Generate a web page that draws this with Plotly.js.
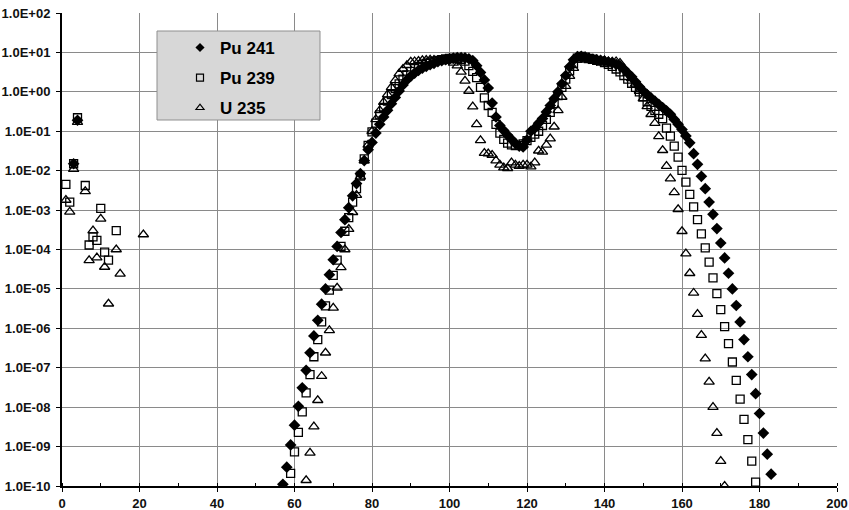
<!DOCTYPE html>
<html>
<head>
<meta charset="utf-8">
<script src="https://cdn.plot.ly/plotly-3.0.1.min.js"></script>
<style>html,body{margin:0;padding:0;background:#fff;}#chart{width:849px;height:510px;}</style>
</head>
<body>
<div id="chart"></div>
<script>
// Mass number (x) and yield (y) for each series
const pu241Mass = [3,4,
 57,58,59,60,61,62,63,64,65,66,67,68,69,70,71,72,73,74,75,76,77,78,79,80,81,82,83,84,85,86,
 87,88,89,90,91,92,93,94,95,96,97,98,99,100,101,102,103,104,105,106,107,108,109,110,111,112,113,114,115,116,
 117,118,119,120,121,122,123,124,125,126,127,128,129,130,131,132,133,134,135,136,137,138,139,140,141,142,143,144,145,146,
 147,148,149,150,151,152,153,154,155,156,157,158,159,160,161,162,163,164,165,166,167,168,169,170,171,172,173,174,175,176,
 177,178,179,180,181,182,183];
const pu241Yield = [0.015,0.19,
 1.1e-10,3.0e-10,1.1e-9,3.5e-9,1.05e-8,3.1e-8,8.6e-8,2.4e-7,6.4e-7,1.6e-6,
 4.1e-6,1.0e-5,2.3e-5,5.5e-5,1.2e-4,2.7e-4,5.7e-4,1.15e-3,2.3e-3,4.7e-3,
 8.4e-3,0.018,0.034,0.052,0.09,0.15,0.23,0.34,0.5,0.72,
 1.05,1.5,2.0,2.5,3.0,3.5,4.0,4.4,4.9,5.3,
 5.8,6.2,6.6,6.9,7.2,7.4,7.4,7.3,6.9,6.2,
 4.6,3.1,2.0,1.25,0.52,0.23,0.14,0.104,0.079,0.062,
 0.049,0.042,0.04,0.06,0.1,0.12,0.16,0.21,0.31,0.45,
 0.67,1.0,1.6,2.6,4.3,6.5,7.8,8.0,7.6,7.1,
 6.7,6.4,6.2,6.0,5.7,5.4,5.0,4.6,3.8,3.0,
 2.4,1.8,1.35,1.05,0.85,0.7,0.58,0.48,0.4,0.33,
 0.27,0.2,0.15,0.11,0.076,0.051,0.027,0.0145,0.0072,0.0035,
 0.0016,7.8e-4,3.4e-4,1.46e-4,6.1e-5,2.5e-5,1.0e-5,3.8e-6,1.45e-6,5.2e-7,
 1.9e-7,6.7e-8,2.2e-8,6.9e-9,2.2e-9,6.4e-10,2.0e-10];

const pu239Mass = [1,2,3,4,6,7,8,9,10,11,12,14,
 59,60,61,62,63,64,65,66,67,68,69,70,71,72,73,74,75,76,77,78,79,80,81,82,83,84,85,86,87,88,
 89,90,91,92,93,94,95,96,97,98,99,100,101,102,103,104,105,106,107,108,109,110,111,112,113,114,115,116,117,118,
 119,120,121,122,123,124,125,126,127,128,129,130,131,132,133,134,135,136,137,138,139,140,141,142,143,144,145,146,147,148,
 149,150,151,152,153,154,155,156,157,158,159,160,161,162,163,164,165,166,167,168,169,170,171,172,173,174,175,176,177,178,179];
const pu239Yield = [0.0045,0.0016,0.015,0.22,0.0042,1.3e-4,2.1e-4,1.7e-4,1.1e-3,8.6e-5,5.4e-5,3.0e-4,
 2.1e-10,7.3e-10,2.3e-9,7.6e-9,2.3e-8,6.7e-8,1.9e-7,5.2e-7,1.45e-6,3.7e-6,
 9.3e-6,2.2e-5,5.4e-5,1.2e-4,2.9e-4,6.4e-4,1.6e-3,3.5e-3,7.3e-3,0.02,
 0.044,0.096,0.16,0.26,0.4,0.58,0.85,1.2,1.6,2.1,
 2.7,3.3,3.9,4.4,4.9,5.3,5.7,6.0,6.3,6.6,
 6.8,7.0,7.1,7.0,6.7,6.0,4.6,3.3,2.3,1.3,
 0.7,0.45,0.3,0.15,0.09,0.062,0.05,0.045,0.043,0.044,
 0.048,0.058,0.07,0.085,0.1,0.14,0.2,0.3,0.5,0.8,
 1.3,2.1,3.4,5.2,7.2,7.9,7.6,7.1,6.7,6.3,
 6.0,5.5,5.0,4.4,3.8,3.2,2.6,2.1,1.65,1.3,
 1.0,0.75,0.56,0.43,0.34,0.27,0.21,0.12,0.075,0.042,
 0.022,0.0102,5.1e-3,2.5e-3,1.2e-3,5.7e-4,2.5e-4,1.1e-4,4.8e-5,1.9e-5,
 7.6e-6,3.0e-6,1.1e-6,4.1e-7,1.4e-7,4.8e-8,1.6e-8,4.9e-9,1.5e-9,4.3e-10,
 1.26e-10];

const u235Mass = [1,2,3,4,6,7,8,9,10,11,12,14,15,21,
 63,64,65,66,67,68,69,70,71,72,73,74,75,76,77,78,79,80,81,82,83,84,85,86,87,88,89,90,91,92,
 93,94,95,96,97,98,99,100,101,102,103,104,105,106,107,108,109,110,111,112,113,114,115,116,117,118,119,120,121,122,
 123,124,125,126,127,128,129,130,131,132,133,134,135,136,137,138,139,140,141,142,143,144,145,146,147,148,149,150,151,152,
 153,154,155,156,157,158,159,160,161,162,163,164,165,166,167,168,169,170,171];
const u235Yield = [0.0018,0.0009,0.011,0.17,0.003,5.3e-5,3.0e-4,6.2e-5,6.0e-4,3.6e-5,4.2e-6,1.0e-4,2.4e-5,2.4e-4,
 1.4e-10,6.9e-10,3.2e-9,1.5e-8,6.1e-8,2.4e-7,8.9e-7,3.3e-6,1.07e-5,3.5e-5,
 1.0e-4,3.3e-4,8.8e-4,2.4e-3,7.0e-3,0.018,0.045,0.1,0.2,0.34,
 0.55,0.85,1.3,1.95,2.9,3.8,4.7,5.8,5.9,6.0,
 6.3,6.4,6.5,6.4,6.1,5.9,6.1,6.3,5.4,4.6,
 3.2,1.9,1.05,0.42,0.15,0.059,0.028,0.027,0.025,0.018,
 0.014,0.012,0.0115,0.016,0.014,0.013,0.014,0.014,0.0126,0.016,
 0.032,0.03,0.045,0.065,0.13,0.34,0.74,1.4,2.5,4.0,
 6.5,7.8,6.6,6.3,6.2,6.6,6.4,6.2,5.9,5.8,
 5.9,5.4,3.9,3.0,2.2,1.6,1.05,0.67,0.43,0.27,
 0.16,0.074,0.033,0.013,0.0063,0.0028,0.00105,2.9e-4,7.9e-5,2.5e-5,
 7.9e-6,2.3e-6,6.7e-7,1.7e-7,4.4e-8,1.0e-8,2.2e-9,4.3e-10,1.0e-10];

const seriesNames = ["Pu 241", "Pu 239", "U 235"];
const xTicks = [0,20,40,60,80,100,120,140,160,180,200];
const yTickVals = [1e-10,1e-9,1e-8,1e-7,1e-6,1e-5,1e-4,1e-3,1e-2,1e-1,1,10,100];
const yTickText = ["1.0E-10","1.0E-09","1.0E-08","1.0E-07","1.0E-06","1.0E-05","1.0E-04","1.0E-03","1.0E-02","1.0E-01","1.0E+00","1.0E+01","1.0E+02"];

const font = "Liberation Sans, Arial, Helvetica, sans-serif";
const symbols = ["diamond", "square-open", "triangle-up-open"];
const sizes = [9, 8, 9];
const masses = [pu241Mass, pu239Mass, u235Mass];
const yields = [pu241Yield, pu239Yield, u235Yield];

const traces = [];
// data traces: draw U 235 first, Pu 241 last (on top)
[2, 1, 0].forEach(i => {
  traces.push({x: masses[i], y: yields[i], name: seriesNames[i], showlegend: false,
    type: "scatter", mode: "markers",
    marker: {symbol: symbols[i], size: sizes[i], color: "#000",
             line: {color: "#000", width: i === 0 ? 0 : 1.3}}});
});
// legend entries with small symbols, as in the reference legend
[0, 1, 2].forEach(i => {
  traces.push({x: [null], y: [null], name: seriesNames[i], showlegend: true, legendrank: i + 1,
    legendgroup: "g" + i, type: "scatter", mode: "markers",
    marker: {symbol: symbols[i], size: 7, color: "#000", line: {color: "#000", width: i === 0 ? 0 : 1.2}}});
});

const W = 849, H = 510, ml = 62, mr = 12, mt = 13, mb = 24;
const pw = W - ml - mr, ph = H - mt - mb;
const px2x = p => (p - ml) / pw;
const py2y = p => 1 - (p - mt) / ph;

const layout = {
  width: W, height: H,
  margin: {l: ml, r: mr, t: mt, b: mb, pad: 0},
  paper_bgcolor: "#fff", plot_bgcolor: "#fff",
  showlegend: true,
  legend: {x: px2x(180), y: py2y(30), xanchor: "left", yanchor: "top",
           bgcolor: "rgba(0,0,0,0)", borderwidth: 0, traceorder: "grouped", tracegroupgap: 5,
           font: {family: font, size: 17, color: "#000", weight: "bold"}},
  shapes: [{type: "rect", xref: "paper", yref: "paper", layer: "above",
            x0: px2x(157), x1: px2x(320), y0: py2y(120), y1: py2y(31),
            fillcolor: "#d7d7d7", line: {color: "#8f8f8f", width: 1}}],
  xaxis: {range: [0, 200], tickvals: xTicks, showgrid: true, gridcolor: "#8a8a8a", gridwidth: 1,
          showline: true, linecolor: "#000", linewidth: 2, zeroline: false,
          ticks: "outside", ticklen: 4, tickcolor: "#000", tickwidth: 1,
          minor: {dtick: 10, ticks: "inside", ticklen: 3, tickcolor: "#000", showgrid: false},
          tickfont: {family: font, size: 13, color: "#111", weight: "bold"}},
  yaxis: {type: "log", range: [-10, 2], tickvals: yTickVals, ticktext: yTickText,
          showgrid: true, gridcolor: "#8a8a8a", gridwidth: 1,
          showline: true, linecolor: "#000", linewidth: 2, zeroline: false,
          ticks: "outside", ticklen: 4, tickcolor: "#000", tickwidth: 1, ticklabelstandoff: 3,
          tickfont: {family: font, size: 13, color: "#111", weight: "bold"}}
};

Plotly.newPlot("chart", traces, layout, {displayModeBar: false, staticPlot: true});
</script>
</body>
</html>
